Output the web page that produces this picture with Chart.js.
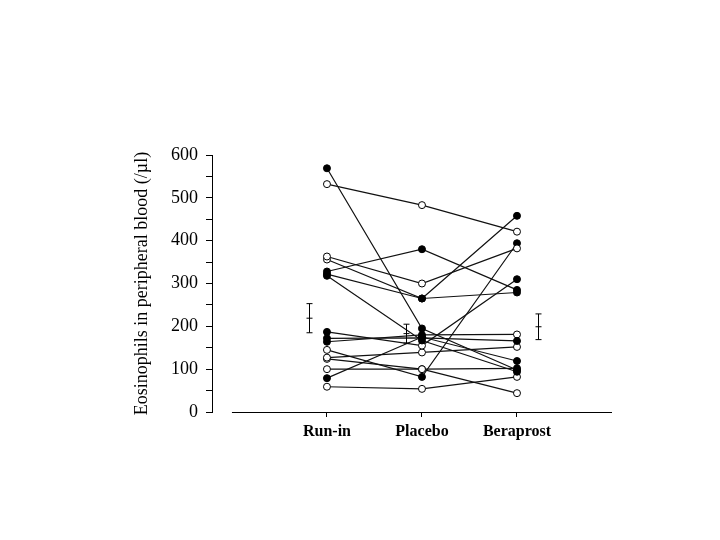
<!DOCTYPE html>
<html>
<head>
<meta charset="utf-8">
<title>Eosinophils</title>
<script src="https://cdn.jsdelivr.net/npm/chart.js@4.4.0/dist/chart.umd.min.js"></script>
<style>
  html, body { margin: 0; padding: 0; background: #fff; }
  #wrap { width: 720px; height: 540px; }
</style>
</head>
<body>
<div id="wrap"><canvas id="eos-chart"></canvas></div>
<script>
// Treatment periods along the x axis
const periods = ['Run-in', 'Placebo', 'Beraprost'];

// Eosinophil counts (/µl), one entry per subject
const runIn     = [532, 363, 328, 356, 322, 569,  79, 172, 164, 318, 187, 127, 124, 100, 145,  59];
const placebo   = [483, 300, 380, 265, 265, 195, 175, 173, 180, 167, 155, 139, 100, 100,  82,  54];
const beraprost = [421, 382, 285, 458, 279,  98, 119, 166, 181,  94, 310, 152,  44, 102, 394,  82];
// symbol of each subject at each period: f = filled circle, o = open circle
const symbols   = ['ooo', 'ooo', 'fff', 'off', 'fff', 'fff', 'fff', 'fff',
                   'ffo', 'fff', 'fof', 'ooo', 'ooo', 'oof', 'off', 'ooo'];

// Group mean and SE drawn beside each period
const means = [219, 183, 199];
const errors = [34, 22, 30];

// Y axis ticks
const yMin = 0;
const yMax = 600;
const yStep = 50;

const serif = '"Liberation Serif", "DejaVu Serif", serif';

// Draws the detached x axis line and the mean ± SE bars
const extras = {
  id: 'extras',
  afterDatasetsDraw(chart) {
    const { ctx, scales: { x, y } } = chart;
    const barShift = [-0.19, -0.17, 0.22];
    ctx.save();
    ctx.strokeStyle = '#000';
    ctx.lineWidth = 1;

    ctx.beginPath();
    ctx.moveTo(x.getPixelForValue(0), Math.round(y.bottom) + 0.5);
    ctx.lineTo(x.getPixelForValue(4), Math.round(y.bottom) + 0.5);
    ctx.stroke();

    means.forEach((m, i) => {
      const px = Math.round(x.getPixelForValue(i + 1 + barShift[i])) + 0.5;
      const top = y.getPixelForValue(m + errors[i]);
      const mid = y.getPixelForValue(m);
      const bot = y.getPixelForValue(m - errors[i]);
      ctx.beginPath();
      ctx.moveTo(px, top);
      ctx.lineTo(px, bot);
      [top, mid, bot].forEach(py => {
        ctx.moveTo(px - 3, py);
        ctx.lineTo(px + 3, py);
      });
      ctx.stroke();
    });
    ctx.restore();
  }
};

function initChart() {
  const ctx = document.getElementById('eos-chart').getContext('2d');

  const datasets = runIn.map((v, i) => ({
    data: [
      { x: 1, y: v },
      { x: 2, y: placebo[i] },
      { x: 3, y: beraprost[i] }
    ],
    borderColor: '#111',
    borderWidth: 1.2,
    tension: 0,
    pointRadius: 3.5,
    pointBorderWidth: 1,
    pointBorderColor: '#000',
    pointBackgroundColor: symbols[i].split('').map(s => s === 'f' ? '#000' : '#fff')
  }));

  new Chart(ctx, {
    type: 'line',
    data: { datasets },
    options: {
      responsive: true,
      maintainAspectRatio: false,
      animation: false,
      layout: {
        padding: { left: 131, right: 108, top: 155, bottom: 88 }
      },
      scales: {
        x: {
          type: 'linear',
          min: -0.21,
          max: 4,
          afterBuildTicks: scale => {
            scale.ticks = periods.map((p, i) => ({ value: i + 1 }));
          },
          afterFit: scale => { scale.height = 40; },
          border: { display: false },
          grid: {
            drawOnChartArea: false,
            tickLength: 5,
            tickColor: '#000'
          },
          ticks: {
            autoSkip: false,
            maxRotation: 0,
            padding: 5,
            color: '#000',
            font: { family: serif, size: 16, weight: 'bold' },
            callback: v => periods[v - 1]
          }
        },
        y: {
          min: yMin,
          max: yMax,
          afterFit: scale => { scale.width = 81; },
          border: { display: true, color: '#000', width: 1 },
          grid: {
            drawOnChartArea: false,
            tickLength: 6,
            tickColor: '#000'
          },
          ticks: {
            stepSize: yStep,
            autoSkip: false,
            padding: 8,
            color: '#000',
            font: { family: serif, size: 18 },
            callback: v => (v % 100 === 0 ? v : '')
          },
          title: {
            display: true,
            text: 'Eosinophils in peripheral blood (/µl)',
            color: '#000',
            padding: 0,
            font: { family: serif, size: 18 }
          }
        }
      },
      plugins: {
        legend: { display: false },
        tooltip: { enabled: false }
      }
    },
    plugins: [extras]
  });
}

document.addEventListener('DOMContentLoaded', initChart);
</script>
</body>
</html>
